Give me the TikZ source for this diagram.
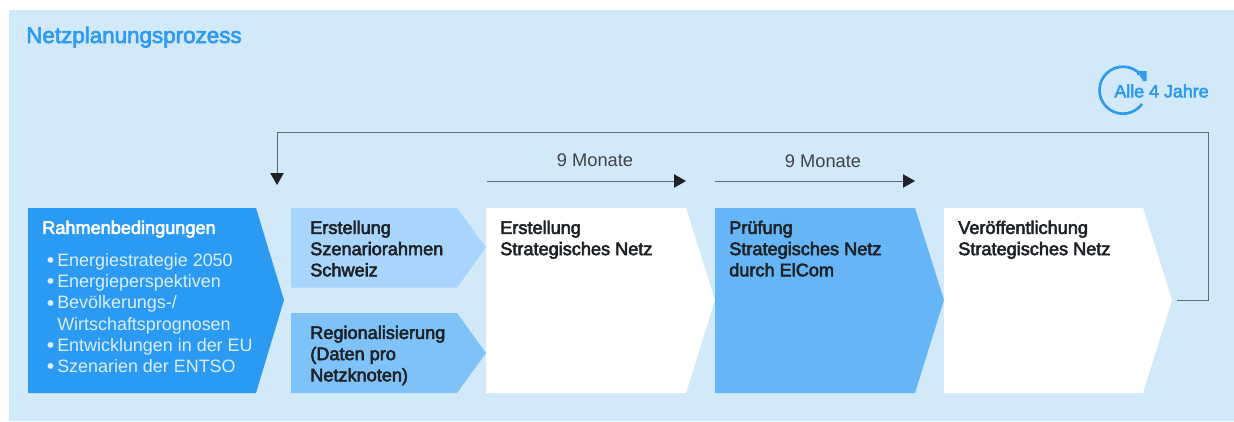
\documentclass[tikz,border=0pt]{standalone}
\usepackage{fontspec}
\setmainfont{Liberation Sans}
\newfontfamily\medfont[FakeBold=3]{Liberation Sans}
\usetikzlibrary{arrows.meta}
\definecolor{panelc}{HTML}{D2E9FA}
\definecolor{rahmenc}{HTML}{2B9AF3}
\definecolor{szenc}{HTML}{A8D5FB}
\definecolor{regioc}{HTML}{7FC2F8}
\definecolor{pruefc}{HTML}{66B5F6}
\definecolor{titlec}{HTML}{2E9BF0}
\definecolor{linec}{HTML}{5E6C77}
\definecolor{inkc}{HTML}{1E2226}
\definecolor{softc}{HTML}{DCEEFC}
\tikzset{
  head/.style={anchor=north west,inner sep=0pt,align=left,text=inkc,font=\fontsize{13.6}{15.9}\selectfont\medfont},
  plain/.style={inner sep=0pt,text=inkc!85,font=\fontsize{13.7}{15}\selectfont},
  flow/.style={draw=linec,line width=0.7pt},
  tiparrow/.style={-{Triangle[length=9pt,width=10pt,color=inkc]}}
}
\newcommand{\bul}{\llap{\raisebox{-1pt}{\fontsize{16}{16}\selectfont\textbullet}\hspace{2.2pt}}}
\begin{document}
\begin{tikzpicture}[x=0.75pt,y=-0.75pt]
\useasboundingbox (0,0) rectangle (1234,421);
\fill[panelc] (9,10) rectangle (1234,421);
\node[anchor=base west,inner sep=0pt,text=titlec,font=\fontsize{16.8}{18}\selectfont\medfont] (title) at (26,43) {Netzplanungsprozess};
% chevrons
\fill[rahmenc] (28,208) -- (256,208) -- (284,300) -- (256,393) -- (28,393) -- cycle;
\fill[szenc] (291,208) -- (457,208) -- (486,247.5) -- (457,287.5) -- (291,287.5) -- cycle;
\fill[regioc] (291,313) -- (457,313) -- (486,353) -- (457,393) -- (291,393) -- cycle;
\fill[white] (486,208) -- (686,208) -- (715,300) -- (686,393) -- (486,393) -- cycle;
\fill[pruefc] (715,208) -- (915,208) -- (944,300) -- (915,393) -- (715,393) -- cycle;
\fill[white] (944,208) -- (1143,208) -- (1172,300) -- (1143,393) -- (944,393) -- cycle;
% texts
\node[head,text=white] (rahmen) at (42,220.5) {Rahmenbedingungen};
\node[anchor=north west,inner sep=0pt,align=left,text=softc,font=\fontsize{13.45}{15.95}\selectfont] (liste) at (57,253)
 {\bul Energiestrategie 2050\\ \bul Energieperspektiven\\ \bul Bevölkerungs-/\\ Wirtschaftsprognosen\\ \bul Entwicklungen in der EU\\ \bul Szenarien der ENTSO};
\node[head] (szen) at (310,220.5) {Erstellung\\Szenariorahmen\\Schweiz};
\node[head] (regio) at (310,325.5) {Regionalisierung\\(Daten pro\\Netzknoten)};
\node[head] (erst) at (500,220.5) {Erstellung\\Strategisches Netz};
\node[head] (pruef) at (729,220.5) {Prüfung\\Strategisches Netz\\durch ElCom};
\node[head] (veroeff) at (958,220.5) {Veröffentlichung\\Strategisches Netz};
% durations
\coordinate (a1) at (487,181); \coordinate (a2) at (686,181);
\coordinate (b1) at (715,181); \coordinate (b2) at (915,181);
\draw[flow,tiparrow] (a1) -- (a2);
\draw[flow,tiparrow] (b1) -- (b2);
\node[plain] (m1) at (595,160) {9 Monate};
\node[plain] (m2) at (823,161) {9 Monate};
% feedback loop
\coordinate (f0) at (1177,300); \coordinate (f1) at (1208,300);
\coordinate (f2) at (1208,132); \coordinate (f3) at (277,132); \coordinate (f4) at (277,185);
\draw[flow,tiparrow] (f0) -- (f1) -- (f2) -- (f3) -- (f4);
% cycle icon
\draw[titlec,line width=2pt] (1142,104) arc[start angle=36,end angle=332,radius=23.5];
\fill[titlec] (1137,71) -- (1146.5,71) -- (1146.5,81) -- (1142.5,81) -- (1142.5,75) -- (1137,75) -- cycle;
\node[anchor=center,inner sep=0pt,text=titlec,font=\fontsize{13.4}{14}\selectfont\medfont] (alle) at (1161.5,91) {Alle 4 Jahre};
\end{tikzpicture}
\end{document}
